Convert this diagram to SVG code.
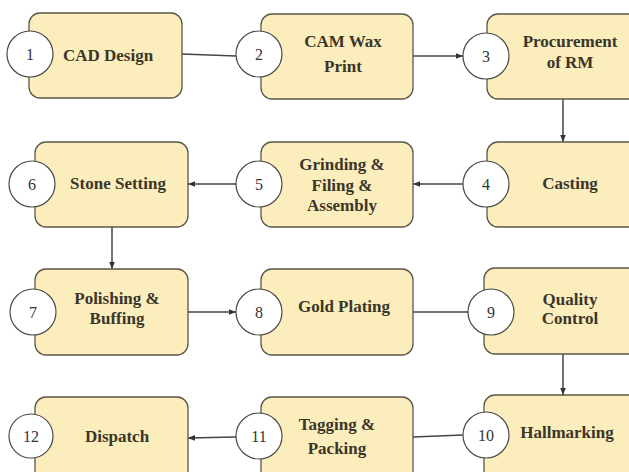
<svg xmlns="http://www.w3.org/2000/svg" width="629" height="472" viewBox="0 0 629 472">
<style>
.box{fill:#fcedbd;stroke:#5a5648;stroke-width:1.3}
.num{fill:#fff;stroke:#4a4a4a;stroke-width:1.2}
.nt{font-size:16px;fill:#333;text-anchor:middle}
.lb{font-size:17px;font-weight:bold;fill:#3a3629;text-anchor:middle}
.cn{stroke:#444;stroke-width:1.5;fill:none}
</style>
<defs>
<marker id="ah" viewBox="0 0 10 10" refX="10" refY="5" markerWidth="7" markerHeight="7" orient="auto" markerUnits="userSpaceOnUse">
<path d="M0,1 L10,5 L0,9 z" fill="#333"/>
</marker>
</defs>
<rect width="629" height="472" fill="#fff"/>
<g id="connectors">
<line class="cn" x1="182" y1="54" x2="236" y2="56"/>
<line class="cn" x1="413" y1="56" x2="463" y2="56" marker-end="url(#ah)"/>
<line class="cn" x1="563" y1="99" x2="563" y2="142" marker-end="url(#ah)"/>
<line class="cn" x1="463" y1="184" x2="413" y2="184" marker-end="url(#ah)"/>
<line class="cn" x1="236" y1="184" x2="188" y2="184" marker-end="url(#ah)"/>
<line class="cn" x1="112" y1="227" x2="112" y2="269" marker-end="url(#ah)"/>
<line class="cn" x1="188" y1="312" x2="236" y2="312" marker-end="url(#ah)"/>
<line class="cn" x1="413" y1="312" x2="468" y2="312"/>
<line class="cn" x1="563" y1="354" x2="563" y2="395" marker-end="url(#ah)"/>
<line class="cn" x1="463" y1="435" x2="413" y2="437"/>
<line class="cn" x1="236" y1="437" x2="188" y2="438" marker-end="url(#ah)"/>
</g>
<g font-family="Liberation Serif, Times New Roman, DejaVu Serif, serif">
<g id="n1"><rect class="box" x="29" y="13" width="153" height="85" rx="11"/><circle class="num" cx="30" cy="54" r="23"/><text class="nt" x="30" y="60">1</text><text class="lb" x="108" y="61">CAD Design</text></g>
<g id="n2"><rect class="box" x="261" y="14" width="152" height="85" rx="11"/><circle class="num" cx="259" cy="54" r="23"/><text class="nt" x="259" y="60">2</text><text class="lb" x="343" y="47">CAM Wax</text><text class="lb" x="343" y="72">Print</text></g>
<g id="n3"><rect class="box" x="487" y="14" width="153" height="85" rx="11"/><circle class="num" cx="486" cy="56" r="23"/><text class="nt" x="486" y="62">3</text><text class="lb" x="570" y="47">Procurement</text><text class="lb" x="570" y="68">of RM</text></g>
<g id="n4"><rect class="box" x="487" y="142" width="153" height="85" rx="11"/><circle class="num" cx="486" cy="184" r="23"/><text class="nt" x="486" y="190">4</text><text class="lb" x="570" y="189">Casting</text></g>
<g id="n5"><rect class="box" x="261" y="142" width="152" height="85" rx="11"/><circle class="num" cx="259" cy="184" r="23"/><text class="nt" x="259" y="190">5</text><text class="lb" x="342" y="170">Grinding &amp;</text><text class="lb" x="342" y="191">Filing &amp;</text><text class="lb" x="342" y="211">Assembly</text></g>
<g id="n6"><rect class="box" x="35" y="142" width="153" height="85" rx="11"/><circle class="num" cx="32" cy="184" r="23"/><text class="nt" x="32" y="190">6</text><text class="lb" x="118" y="189">Stone Setting</text></g>
<g id="n7"><rect class="box" x="35" y="269" width="153" height="86" rx="11"/><circle class="num" cx="33" cy="312" r="23"/><text class="nt" x="33" y="318">7</text><text class="lb" x="117" y="304">Polishing &amp;</text><text class="lb" x="117" y="324">Buffing</text></g>
<g id="n8"><rect class="box" x="261" y="269" width="152" height="86" rx="11"/><circle class="num" cx="259" cy="312" r="23"/><text class="nt" x="259" y="318">8</text><text class="lb" x="344" y="312">Gold Plating</text></g>
<g id="n9"><rect class="box" x="484" y="268" width="156" height="86" rx="11"/><circle class="num" cx="491" cy="312" r="23"/><text class="nt" x="491" y="318">9</text><text class="lb" x="570" y="305">Quality</text><text class="lb" x="570" y="324">Control</text></g>
<g id="n10"><rect class="box" x="484" y="395" width="156" height="86" rx="11"/><circle class="num" cx="486" cy="435" r="23"/><text class="nt" x="486" y="441">10</text><text class="lb" x="567" y="438">Hallmarking</text></g>
<g id="n11"><rect class="box" x="261" y="397" width="152" height="86" rx="11"/><circle class="num" cx="259" cy="436" r="23"/><text class="nt" x="259" y="442">11</text><text class="lb" x="337" y="430">Tagging &amp;</text><text class="lb" x="337" y="454">Packing</text></g>
<g id="n12"><rect class="box" x="35" y="397" width="153" height="86" rx="11"/><circle class="num" cx="31" cy="436" r="22"/><text class="nt" x="31" y="442">12</text><text class="lb" x="117" y="442">Dispatch</text></g>
</g>
</svg>
